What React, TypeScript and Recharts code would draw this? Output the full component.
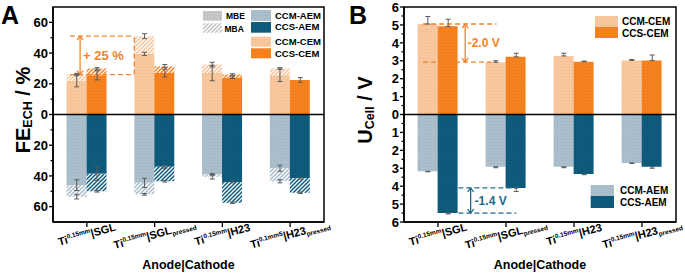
import React from 'react';
import {
  ComposedChart,
  Bar,
  XAxis,
  YAxis,
  ReferenceLine,
  ReferenceArea,
  Scatter,
  ErrorBar,
  Legend,
} from 'recharts';

const FONT = '"Liberation Sans", Arial, Helvetica, sans-serif';
const ORANGE = '#F2842A';
const TEAL = '#1D6A8B';
const ERR = '#5a5a5a';

// ---------- categories / tick labels ----------
const categories = ['Ti|SGL', 'Ti|SGLpressed', 'Ti|H23', 'Ti|H23pressed'];
const tickMain = ['|SGL', '|SGL', '|H23', '|H23'];
const tickSub = ['', 'pressed', '', 'pressed'];
const tickSupA = ['0.15mm', '0.15mm', '0.15mm', '0.1mm5'];
const tickSupB = ['0.15mm', '0.15mm', '0.15mm', '0.15mm'];

// ---------- Panel A : FE_ECH (%) ----------
const ccmCemMBE = [22, 39.5, 27, 25.5];
const ccmCemMBA = [4, 11.5, 5.5, 4.5];
const ccsCemMBE = [25.5, 27, 24, 22.5];
const ccsCemMBA = [4.5, 4.5, 2, 0];
const ccmAemMBE = [46, 44.5, 39, 35];
const ccmAemMBA = [7.5, 7.5, 1.5, 8.5];
const ccsAemMBE = [38.5, 34, 44, 41.5];
const ccsAemMBA = [11.5, 9.5, 13.5, 9.5];

const ccmCemErrMBE = [4, 1, 5, 4];
const ccmCemErrTot = [0.8, 1.6, 1.5, 0.5];
const ccsCemErrMBE = [3, 2.5, 0.5, 1.5];
const ccsCemErrTot = [0.5, 1, 0.5, 0];
const ccmAemErrMBE = [3.5, 3, 0.5, 2];
const ccmAemErrTot = [1.5, 0.5, 1.5, 1];
const ccsAemErrMBE = [4.5, 1, 0.5, 0.5];
const ccsAemErrTot = [0.5, 0.5, 0.5, 0.5];

const yTicksA = [-60, -50, -40, -30, -20, -10, 0, 10, 20, 30, 40, 50, 60];

// ---------- Panel B : U_Cell (V) ----------
const ccmCemU = [5.05, 2.92, 3.27, 3.02];
const ccsCemU = [4.92, 3.22, 2.95, 3.02];
const ccmAemU = [3.17, 2.92, 2.92, 2.7];
const ccsAemU = [5.5, 4.1, 3.32, 2.92];
const ccmCemUErr = [0.42, 0.08, 0.15, 0.05];
const ccsCemUErr = [0.4, 0.2, 0.03, 0.3];
const ccmAemUErr = [0.03, 0.05, 0.05, 0.03];
const ccsAemUErr = [0.05, 0.2, 0.04, 0.08];

const yTicksB = [
  -6, -5.5, -5, -4.5, -4, -3.5, -3, -2.5, -2, -1.5, -1, -0.5, 0,
  0.5, 1, 1.5, 2, 2.5, 3, 3.5, 4, 4.5, 5, 5.5, 6,
];

// ---------- built tables ----------
const dataA = categories.map((cat, i) => ({
  cat,
  ccmCemMBE: ccmCemMBE[i],
  ccmCemMBA: ccmCemMBA[i],
  ccmAemMBE: -ccmAemMBE[i],
  ccmAemMBA: -ccmAemMBA[i],
  ccsCemMBE: ccsCemMBE[i],
  ccsCemMBA: ccsCemMBA[i],
  ccsAemMBE: -ccsAemMBE[i],
  ccsAemMBA: -ccsAemMBA[i],
}));

const dataB = categories.map((cat, i) => ({
  cat,
  ccmCem: ccmCemU[i],
  ccmAem: -ccmAemU[i],
  ccsCem: ccsCemU[i],
  ccsAem: -ccsAemU[i],
}));

// bar centres on the 0..4 numeric axis (20% category gap, two bars)
const LEFT = 0.35;
const RIGHT = 0.65;

const errA: { x: number; y: number; err: number }[] = [];
categories.forEach((_, i) => {
  errA.push({ x: i + LEFT, y: ccmCemMBE[i], err: ccmCemErrMBE[i] });
  errA.push({ x: i + LEFT, y: ccmCemMBE[i] + ccmCemMBA[i], err: ccmCemErrTot[i] });
  errA.push({ x: i + RIGHT, y: ccsCemMBE[i], err: ccsCemErrMBE[i] });
  errA.push({ x: i + RIGHT, y: ccsCemMBE[i] + ccsCemMBA[i], err: ccsCemErrTot[i] });
  errA.push({ x: i + LEFT, y: -ccmAemMBE[i], err: ccmAemErrMBE[i] });
  errA.push({ x: i + LEFT, y: -(ccmAemMBE[i] + ccmAemMBA[i]), err: ccmAemErrTot[i] });
  errA.push({ x: i + RIGHT, y: -ccsAemMBE[i], err: ccsAemErrMBE[i] });
  errA.push({ x: i + RIGHT, y: -(ccsAemMBE[i] + ccsAemMBA[i]), err: ccsAemErrTot[i] });
});

const errB: { x: number; y: number; err: number[] }[] = [];
categories.forEach((_, i) => {
  errB.push({ x: i + LEFT, y: ccmCemU[i], err: [0, ccmCemUErr[i]] });
  errB.push({ x: i + RIGHT, y: ccsCemU[i], err: [0, ccsCemUErr[i]] });
  errB.push({ x: i + LEFT, y: -ccmAemU[i], err: [ccmAemUErr[i], 0] });
  errB.push({ x: i + RIGHT, y: -ccsAemU[i], err: [ccsAemUErr[i], 0] });
});

const ccmCemTotA = ccmCemMBE.map((v, i) => v + ccmCemMBA[i]);

// ---------- patterns ----------
const dotDefs: [string, string, string][] = [
  ['ccmCem', '#F9C79D', '#F3BA8B'],
  ['ccsCem', '#F4821F', '#EC7614'],
  ['ccmAem', '#AABECB', '#9EB3C1'],
  ['ccsAem', '#0E5B7C', '#0A5070'],
  ['grey', '#C6C6C6', '#BABABA'],
];
const hatchDefs: [string, string, string][] = [
  ['ccmCem', '#F8C398', '#FFFFFF'],
  ['ccsCem', '#F4821F', '#FFFFFF'],
  ['ccmAem', '#A8BCCA', '#FFFFFF'],
  ['ccsAem', '#0E5B7C', '#FFFFFF'],
  ['grey', '#FFFFFF', '#BDBDBD'],
];

const Patterns = () => (
  <svg width={0} height={0} style={{ position: 'absolute' }}>
    <defs>
      {dotDefs.map(([id, base, dot]) => (
        <pattern key={'d' + id} id={`dot-${id}`} width={3} height={3} patternUnits="userSpaceOnUse">
          <rect width={3} height={3} fill={base} />
          <rect x={1} y={1} width={1} height={1} fill={dot} />
        </pattern>
      ))}
      {hatchDefs.map(([id, base, stripe]) => (
        <pattern key={'h' + id} id={`hatch-${id}`} width={4} height={4} patternUnits="userSpaceOnUse">
          <rect width={4} height={4} fill={base} />
          <path d="M-1,1 L1,-1 M0,4 L4,0 M3,5 L5,3" stroke={stripe} strokeWidth={1.3} />
        </pattern>
      ))}
    </defs>
  </svg>
);

// ---------- ticks ----------
const makeYTick = (majorStep: number, fontSize: number) => (props: any) => {
  const { x, y, payload } = props;
  const v = payload.value;
  const isMajor = Math.abs(Math.round(v / majorStep) * majorStep - v) < 1e-6;
  return (
    <g>
      <line x1={x} x2={x - (isMajor ? 4 : 2.5)} y1={y} y2={y} stroke="#000" strokeWidth={1.3} />
      {isMajor && (
        <text
          x={x - 5}
          y={y}
          dy="0.36em"
          textAnchor="end"
          fontSize={fontSize}
          fontWeight="bold"
          fontFamily={FONT}
          fill="#000"
        >
          {Math.abs(v)}
        </text>
      )}
    </g>
  );
};

const makeXTick = (sups: string[]) => (props: any) => {
  const { x, y, payload } = props;
  const i = categories.indexOf(payload.value);
  const ax = x + 1;
  const ay = y + 16;
  return (
    <g>
      <line x1={x} x2={x} y1={y} y2={y + 5} stroke="#000" strokeWidth={1.3} />
      <text
        x={ax}
        y={ay}
        textAnchor="middle"
        transform={`rotate(-15 ${ax} ${ay})`}
        fontSize={11}
        fontWeight="bold"
        fontFamily={FONT}
        fill="#000"
      >
        <tspan>Ti</tspan>
        <tspan fontSize={6.5} dy={-4.5}>
          {sups[i]}
        </tspan>
        <tspan fontSize={11} dy={4.5}>
          {tickMain[i]}
        </tspan>
        {tickSub[i] ? (
          <tspan fontSize={6.5} dy={2.5}>
            {tickSub[i]}
          </tspan>
        ) : null}
      </text>
    </g>
  );
};

const arrowShape = (color: string, text: string, fontSize: number, dx: number) => (p: any) => {
  const { x1, y1, y2 } = p;
  const top = Math.min(y1, y2);
  const bot = Math.max(y1, y2);
  const h = 4;
  return (
    <g>
      <line x1={x1} y1={top} x2={x1} y2={bot} stroke={color} strokeWidth={1.3} />
      <path d={`M${x1 - 3},${top + h} L${x1},${top} L${x1 + 3},${top + h}`} fill="none" stroke={color} strokeWidth={1.3} />
      <path d={`M${x1 - 3},${bot - h} L${x1},${bot} L${x1 + 3},${bot - h}`} fill="none" stroke={color} strokeWidth={1.3} />
      <text
        x={x1 + dx}
        y={(top + bot) / 2}
        dy="0.36em"
        fill={color}
        fontSize={fontSize}
        fontWeight="bold"
        fontFamily={FONT}
      >
        {text}
      </text>
    </g>
  );
};

const noDot = () => <g />;

// ---------- legends ----------
const T = (props: any) => (
  <text dy="0.36em" fontWeight="bold" fontFamily={FONT} fill="#000" {...props} />
);

const LegendA = () => (
  <svg width={125} height={54} style={{ display: 'block' }}>
    <rect x={3} y={3} width={19} height={9.7} fill="url(#dot-grey)" />
    <T x={26} y={8} fontSize={8.5}>MBE</T>
    <rect x={3} y={15.3} width={19} height={9.4} fill="url(#hatch-grey)" />
    <T x={24.5} y={21} fontSize={8.5}>MBA</T>
    <rect x={51} y={2} width={20} height={11} fill="url(#dot-ccmAem)" />
    <T x={75} y={7.2} fontSize={9.5}>CCM-AEM</T>
    <rect x={51} y={14} width={20} height={10.7} fill="url(#dot-ccsAem)" />
    <T x={75} y={18.5} fontSize={9.5}>CCS-AEM</T>
    <rect x={51} y={28.7} width={20} height={10} fill="url(#dot-ccmCem)" />
    <T x={75} y={33.8} fontSize={9.5}>CCM-CEM</T>
    <rect x={51} y={40.3} width={20} height={10} fill="url(#dot-ccsCem)" />
    <T x={75} y={45.3} fontSize={9.5}>CCS-CEM</T>
  </svg>
);

const LegendB = () => (
  <svg width={92} height={196} style={{ display: 'block' }}>
    <rect x={5} y={2} width={23} height={11} fill="url(#dot-ccmCem)" />
    <T x={32} y={7.5} fontSize={10}>CCM-CEM</T>
    <rect x={5} y={13} width={23} height={11} fill="url(#dot-ccsCem)" />
    <T x={32} y={19} fontSize={10}>CCS-CEM</T>
    <rect x={0.7} y={171} width={23.3} height={11} fill="url(#dot-ccmAem)" />
    <T x={30} y={176.5} fontSize={10}>CCM-AEM</T>
    <rect x={0.7} y={182} width={23.3} height={12} fill="url(#dot-ccsAem)" />
    <T x={30} y={188} fontSize={10}>CCS-AEM</T>
  </svg>
);

const axisLabelStyle = {
  fill: '#000',
  fontSize: 12.5,
  fontWeight: 'bold',
  fontFamily: FONT,
};

// ---------- Panel A ----------
function PanelA() {
  return (
    <ComposedChart
      width={340}
      height={274}
      data={dataA}
      margin={{ top: 7, right: 16, bottom: 0, left: 0 }}
      stackOffset="sign"
      barCategoryGap="20%"
      barGap={0}
    >
      <XAxis
        dataKey="cat"
        interval={0}
        height={52}
        tickSize={0}
        tickMargin={0}
        tickLine={false}
        tick={makeXTick(tickSupA)}
        axisLine={{ stroke: '#000', strokeWidth: 1.5 }}
        label={{ value: 'Anode|Cathode', position: 'insideBottom', offset: 5, ...axisLabelStyle }}
      />
      <XAxis xAxisId="n" type="number" dataKey="x" domain={[0, 4]} hide allowDataOverflow />
      <YAxis
        type="number"
        width={53}
        domain={[-70, 70]}
        ticks={yTicksA}
        interval={0}
        allowDataOverflow
        tickSize={0}
        tickMargin={0}
        tickLine={false}
        tick={makeYTick(20, 13)}
        axisLine={{ stroke: '#000', strokeWidth: 1.5 }}
      />
      <Bar dataKey="ccmCemMBE" stackId="L" fill="url(#dot-ccmCem)" isAnimationActive={false} />
      <Bar dataKey="ccmCemMBA" stackId="L" fill="url(#hatch-ccmCem)" isAnimationActive={false} />
      <Bar dataKey="ccmAemMBE" stackId="L" fill="url(#dot-ccmAem)" isAnimationActive={false} />
      <Bar dataKey="ccmAemMBA" stackId="L" fill="url(#hatch-ccmAem)" isAnimationActive={false} />
      <Bar dataKey="ccsCemMBE" stackId="R" fill="url(#dot-ccsCem)" isAnimationActive={false} />
      <Bar dataKey="ccsCemMBA" stackId="R" fill="url(#hatch-ccsCem)" isAnimationActive={false} />
      <Bar dataKey="ccsAemMBE" stackId="R" fill="url(#dot-ccsAem)" isAnimationActive={false} />
      <Bar dataKey="ccsAemMBA" stackId="R" fill="url(#hatch-ccsAem)" isAnimationActive={false} />
      <ReferenceArea
        xAxisId="n"
        x1={0}
        x2={4}
        y1={-70}
        y2={70}
        fill="none"
        fillOpacity={0}
        stroke="#000"
        strokeWidth={1.5}
        ifOverflow="visible"
      />
      <ReferenceLine y={0} stroke="#000" strokeWidth={1.5} />
      <ReferenceLine
        xAxisId="n"
        segment={[{ x: 0.25, y: ccmCemTotA[1] }, { x: 1.2, y: ccmCemTotA[1] }]}
        stroke={ORANGE}
        strokeWidth={1.3}
        strokeDasharray="5 3"
      />
      <ReferenceLine
        xAxisId="n"
        segment={[{ x: 0.25, y: ccmCemTotA[0] }, { x: 1.2, y: ccmCemTotA[0] }]}
        stroke={ORANGE}
        strokeWidth={1.3}
        strokeDasharray="5 3"
      />
      <ReferenceLine
        xAxisId="n"
        segment={[{ x: 1.2, y: ccmCemTotA[0] }, { x: 1.2, y: ccmCemTotA[1] }]}
        stroke={ORANGE}
        strokeWidth={1.3}
        strokeDasharray="5 3"
      />
      <ReferenceLine
        xAxisId="n"
        segment={[{ x: 0.4, y: ccmCemTotA[0] }, { x: 0.4, y: ccmCemTotA[1] }]}
        shape={arrowShape(ORANGE, '+ 25 %', 13, 3)}
      />
      <Scatter xAxisId="n" data={errA} dataKey="y" shape={noDot} isAnimationActive={false}>
        <ErrorBar dataKey="err" direction="y" width={2.5} stroke={ERR} strokeWidth={1} isAnimationActive={false} />
      </Scatter>
      <Legend
        content={LegendA}
        layout="horizontal"
        verticalAlign="middle"
        align="center"
        wrapperStyle={{ position: 'absolute', left: 200, top: 8, width: 125, height: 54 }}
      />
      <text x={1} y={24} fontSize={25} fontWeight="bold" fontFamily={FONT} fill="#000">
        A
      </text>
      <text
        x={30}
        y={110}
        transform="rotate(-90 30 110)"
        textAnchor="middle"
        fontSize={20}
        fontWeight="bold"
        fontFamily={FONT}
        fill="#000"
      >
        FE
        <tspan fontSize={12.5} dy={2}>
          ECH
        </tspan>
        <tspan fontSize={20} dy={-2}>
          {' / %'}
        </tspan>
      </text>
    </ComposedChart>
  );
}

// ---------- Panel B ----------
function PanelB() {
  return (
    <ComposedChart
      width={345}
      height={274}
      data={dataB}
      margin={{ top: 7, right: 9, bottom: 0, left: 0 }}
      stackOffset="sign"
      barCategoryGap="20%"
      barGap={0}
    >
      <XAxis
        dataKey="cat"
        interval={0}
        height={52}
        tickSize={0}
        tickMargin={0}
        tickLine={false}
        tick={makeXTick(tickSupB)}
        axisLine={{ stroke: '#000', strokeWidth: 1.5 }}
        label={{ value: 'Anode|Cathode', position: 'insideBottom', offset: 5, ...axisLabelStyle }}
      />
      <XAxis xAxisId="n" type="number" dataKey="x" domain={[0, 4]} hide allowDataOverflow />
      <YAxis
        type="number"
        width={64}
        domain={[-6, 6]}
        ticks={yTicksB}
        interval={0}
        allowDataOverflow
        tickSize={0}
        tickMargin={0}
        tickLine={false}
        tick={makeYTick(1, 13)}
        axisLine={{ stroke: '#000', strokeWidth: 1.5 }}
      />
      <Bar dataKey="ccmCem" stackId="L" fill="url(#dot-ccmCem)" isAnimationActive={false} />
      <Bar dataKey="ccmAem" stackId="L" fill="url(#dot-ccmAem)" isAnimationActive={false} />
      <Bar dataKey="ccsCem" stackId="R" fill="url(#dot-ccsCem)" isAnimationActive={false} />
      <Bar dataKey="ccsAem" stackId="R" fill="url(#dot-ccsAem)" isAnimationActive={false} />
      <ReferenceArea
        xAxisId="n"
        x1={0}
        x2={4}
        y1={-6}
        y2={6}
        fill="none"
        fillOpacity={0}
        stroke="#000"
        strokeWidth={1.5}
        ifOverflow="visible"
      />
      <ReferenceLine y={0} stroke="#000" strokeWidth={1.5} />
      <ReferenceLine
        xAxisId="n"
        segment={[{ x: 0.28, y: ccmCemU[0] }, { x: 1.36, y: ccmCemU[0] }]}
        stroke={ORANGE}
        strokeWidth={1.3}
        strokeDasharray="5 3"
      />
      <ReferenceLine
        xAxisId="n"
        segment={[{ x: 0.28, y: ccmCemU[1] }, { x: 1.36, y: ccmCemU[1] }]}
        stroke={ORANGE}
        strokeWidth={1.3}
        strokeDasharray="5 3"
      />
      <ReferenceLine
        xAxisId="n"
        segment={[{ x: 0.9, y: ccmCemU[1] }, { x: 0.9, y: ccmCemU[0] }]}
        shape={arrowShape(ORANGE, '-2.0 V', 12, 2.5)}
      />
      <ReferenceLine
        xAxisId="n"
        segment={[{ x: 0.8, y: -ccsAemU[1] }, { x: 1.65, y: -ccsAemU[1] }]}
        stroke={TEAL}
        strokeWidth={1.3}
        strokeDasharray="5 3"
      />
      <ReferenceLine
        xAxisId="n"
        segment={[{ x: 0.8, y: -ccsAemU[0] }, { x: 1.65, y: -ccsAemU[0] }]}
        stroke={TEAL}
        strokeWidth={1.3}
        strokeDasharray="5 3"
      />
      <ReferenceLine
        xAxisId="n"
        segment={[{ x: 0.98, y: -ccsAemU[0] }, { x: 0.98, y: -ccsAemU[1] }]}
        shape={arrowShape(TEAL, '-1.4 V', 12, 4)}
      />
      <Scatter xAxisId="n" data={errB} dataKey="y" shape={noDot} isAnimationActive={false}>
        <ErrorBar dataKey="err" direction="y" width={2.5} stroke={ERR} strokeWidth={1} isAnimationActive={false} />
      </Scatter>
      <Legend
        content={LegendB}
        layout="horizontal"
        verticalAlign="middle"
        align="center"
        wrapperStyle={{ position: 'absolute', left: 250, top: 14, width: 92, height: 196 }}
      />
      <text x={9} y={24} fontSize={25} fontWeight="bold" fontFamily={FONT} fill="#000">
        B
      </text>
      <text
        x={32}
        y={110}
        transform="rotate(-90 32 110)"
        textAnchor="middle"
        fontSize={20}
        fontWeight="bold"
        fontFamily={FONT}
        fill="#000"
      >
        U
        <tspan fontSize={12.5} dy={2}>
          Cell
        </tspan>
        <tspan fontSize={20} dy={-2}>
          {' / V'}
        </tspan>
      </text>
    </ComposedChart>
  );
}

export default function App() {
  return (
    <div
      style={{
        position: 'absolute',
        left: 0,
        top: 0,
        width: 685,
        height: 274,
        background: '#fff',
        fontFamily: FONT,
        overflow: 'hidden',
      }}
    >
      <Patterns />
      <div style={{ position: 'absolute', left: 0, top: 0 }}>
        <PanelA />
      </div>
      <div style={{ position: 'absolute', left: 340, top: 0 }}>
        <PanelB />
      </div>
    </div>
  );
}
